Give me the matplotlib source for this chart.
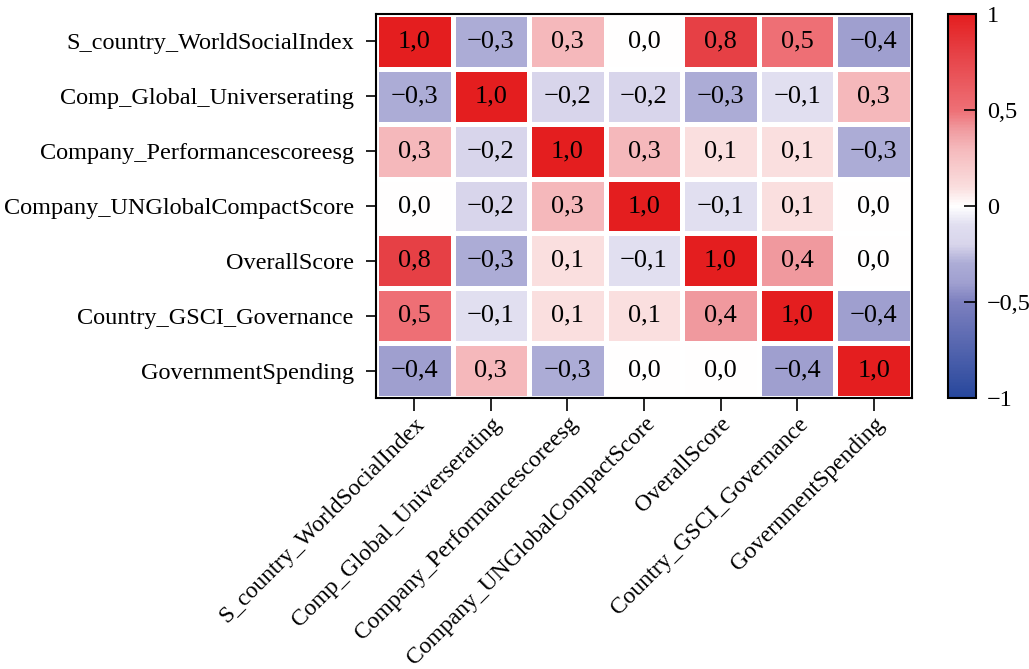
import numpy as np
import matplotlib.pyplot as plt
from matplotlib.colors import LinearSegmentedColormap

plt.rcParams['font.family'] = ['Liberation Serif', 'DejaVu Serif']

variables = [
    'S_country_WorldSocialIndex',
    'Comp_Global_Universerating',
    'Company_Performancescoreesg',
    'Company_UNGlobalCompactScore',
    'OverallScore',
    'Country_GSCI_Governance',
    'GovernmentSpending',
]

corr = np.array([
    [1.0, -0.3, 0.3, 0.0, 0.8, 0.5, -0.4],
    [-0.3, 1.0, -0.2, -0.2, -0.3, -0.1, 0.3],
    [0.3, -0.2, 1.0, 0.3, 0.1, 0.1, -0.3],
    [0.0, -0.2, 0.3, 1.0, -0.1, 0.1, 0.0],
    [0.8, -0.3, 0.1, -0.1, 1.0, 0.4, 0.0],
    [0.5, -0.1, 0.1, 0.1, 0.4, 1.0, -0.4],
    [-0.4, 0.3, -0.3, 0.0, 0.0, -0.4, 1.0],
])

cbar_ticks = [-1, -0.5, 0, 0.5, 1]

# blue - white - red ramp, anchors given as correlation values
ramp = [
    (-1.0, '#27479c'),
    (-0.5, '#7d80bf'),
    (-0.4, '#a0a0d0'),
    (-0.3, '#acacd6'),
    (-0.2, '#d8d5eb'),
    (-0.1, '#e0def0'),
    (0.0, '#ffffff'),
    (0.1, '#fadede'),
    (0.3, '#f5b9bc'),
    (0.4, '#f09ba0'),
    (0.5, '#ee7076'),
    (0.8, '#e64146'),
    (1.0, '#e41e1f'),
]
cmap = LinearSegmentedColormap.from_list(
    'bwr_soft', [((v + 1) / 2, c) for v, c in ramp])


def comma(v, fmt):
    return (fmt % v).replace('-', '\u2212').replace('.', ',')


fig = plt.figure(figsize=(10.29, 6.69), dpi=100)
ax = fig.add_axes([376 / 1029, 1 - 398 / 669, 536 / 1029, 384 / 669])
cax = fig.add_axes([948 / 1029, 1 - 398 / 669, 28 / 1029, 384 / 669])

n = len(variables)
mesh = ax.pcolormesh(np.arange(n + 1), np.arange(n + 1), corr, cmap=cmap,
                     vmin=-1, vmax=1, edgecolor='white', linewidth=2.5)
ax.set_xlim(0, n)
ax.set_ylim(n, 0)

for i in range(n):
    for j in range(n):
        ax.text(j + 0.5, i + 0.5, comma(corr[i, j], '%.1f'),
                ha='center', va='center', fontsize=19, color='black')

ax.set_xticks(np.arange(n) + 0.5)
ax.set_yticks(np.arange(n) + 0.5)
ax.set_xticklabels(variables, rotation=45, ha='right', rotation_mode='anchor',
                   fontsize=17)
ax.set_yticklabels(variables, fontsize=17.5)
ax.tick_params(axis='x', length=9, width=1.2, pad=2)
ax.tick_params(axis='y', length=7, width=1.2, pad=9)
for sp in ax.spines.values():
    sp.set_linewidth(1.5)

cb = fig.colorbar(mesh, cax=cax, ticks=cbar_ticks)
cb.ax.set_yticklabels([comma(t, '%g') for t in cbar_ticks], fontsize=17.5)
cb.ax.tick_params(direction='in', length=9, width=1.2, pad=8)
cb.outline.set_linewidth(1.5)

fig.savefig('out.png', dpi=100)
